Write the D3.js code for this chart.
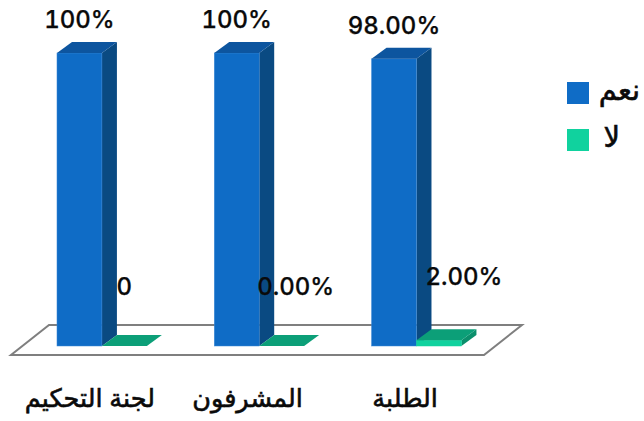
<!DOCTYPE html>
<html>
  <head>
    <meta charset="UTF-8" />
    <title>chart</title>
    <script src="https://cdn.jsdelivr.net/npm/d3@7"></script>
    <style>
      html, body { margin: 0; padding: 0; background: #fff; overflow: hidden; }
      svg { display: block; }
      text {
        font-family: Inter, "DejaVu Sans", sans-serif;
        font-weight: 500;
        font-variant-numeric: tabular-nums;
        fill: #0a0a0a;
        stroke: #0a0a0a;
        stroke-width: 0.25;
      }
      .ar { stroke-width: 0.6; }
    </style>
  </head>
  <body>
    <div class="chart"></div>
    <script>
      // values
      const categories = ["لجنة التحكيم", "المشرفون", "الطلبة"];
      const seriesNames = ["نعم", "لا"];
      const yesValues = [100, 100, 98];
      const noValues = [0, 0, 2];
      const yesLabels = ["100%", "100%", "98.00%"];
      const noLabels = ["0", "0.00%", "2.00%"];

      const width = 644;
      const height = 421;
      const depthX = 15;
      const depthY = -11;
      const floorFront = 355;
      const floorBack = 325;
      const barBase = 346;

      const svg = d3.select(".chart").append("svg")
        .attr("width", width)
        .attr("height", height);

      // front edge of the floor carries the axis, bars stand further back on it
      const xAxisScale = d3.scaleBand().domain(categories).range([11, 484]);
      const x = d3.scaleBand().domain(categories).range([22.7, 495.7])
        .paddingInner(0.4286).paddingOuter(0.218).align(0.5);
      const xInner = d3.scaleBand().domain(seriesNames).range([0, x.bandwidth()]);
      const y = d3.scaleLinear().domain([0, 100]).range([barBase, 53]);

      const colors = {
        "نعم": { front: "#0f6cc6", side: "#0a4a82", top: "#0d559f", edge: "#3f8ad6" },
        "لا": { front: "#10d29e", side: "#0b8f6c", top: "#0c9f78", edge: "#10d29e" }
      };

      // floor
      const floorX = xAxisScale.range();
      const shift = 38;
      svg.append("path")
        .attr("d", d3.line()([
          [floorX[0], floorFront],
          [floorX[1], floorFront],
          [floorX[1] + shift, floorBack],
          [floorX[0] + shift, floorBack]
        ]) + "Z")
        .attr("fill", "#fff")
        .attr("stroke", "#7f7f7f")
        .attr("stroke-width", 2);

      function drawBar(g, x0, w, value, c) {
        const y1 = y(value);
        const line = d3.line();
        if (value > 0) {
          g.append("path")
            .attr("d", line([[x0 + w, y1], [x0 + w + depthX, y1 + depthY], [x0 + w + depthX, barBase + depthY], [x0 + w, barBase]]) + "Z")
            .attr("fill", c.side);
          g.append("rect")
            .attr("x", x0).attr("y", y1)
            .attr("width", w).attr("height", barBase - y1)
            .attr("fill", c.front)
            .attr("stroke", c.edge).attr("stroke-width", 0.5);
        }
        g.append("path")
          .attr("d", line([[x0, y1], [x0 + depthX, y1 + depthY], [x0 + w + depthX, y1 + depthY], [x0 + w, y1]]) + "Z")
          .attr("fill", c.top);
      }

      categories.forEach((cat, i) => {
        const g = svg.append("g");
        drawBar(g, x(cat) + xInner("نعم"), xInner.bandwidth(), yesValues[i], colors["نعم"]);
        drawBar(g, x(cat) + xInner("لا"), xInner.bandwidth(), noValues[i], colors["لا"]);
      });

      // value labels, the green ones were moved by hand in the original
      const noNudge = [0, 14, 25];
      const valueFont = 24;
      categories.forEach((cat, i) => {
        svg.append("text")
          .attr("x", x(cat) + xInner("نعم") + xInner.bandwidth() / 2)
          .attr("y", y(yesValues[i]) - 25)
          .attr("text-anchor", "middle")
          .attr("font-size", valueFont)
          .text(yesLabels[i]);
        svg.append("text")
          .attr("x", x(cat) + xInner("لا") + xInner.bandwidth() / 2 + noNudge[i])
          .attr("y", y(noValues[i]) - 51 - (noValues[i] > 0 ? 4 : 0))
          .attr("text-anchor", "middle")
          .attr("font-size", valueFont)
          .text(noLabels[i]);
      });

      // category axis
      const axis = svg.append("g")
        .attr("transform", `translate(0,${floorFront})`)
        .call(d3.axisBottom(xAxisScale).tickSize(0).tickPadding(34));
      axis.select(".domain").remove();
      axis.selectAll("text")
        .attr("class", "ar")
        .attr("font-size", 25.5)
        .attr("fill", "#0a0a0a");
      axis.attr("font-family", null);

      // legend
      const legendY = d3.scalePoint().domain(seriesNames).range([82, 129]);
      seriesNames.forEach((name, i) => {
        svg.append("rect")
          .attr("x", 567).attr("y", legendY(name))
          .attr("width", 22).attr("height", 22)
          .attr("fill", colors[name].front);
        svg.append("text")
          .attr("class", "ar")
          .attr("x", i === 0 ? 640 : 620)
          .attr("y", legendY(name) + 18)
          .attr("text-anchor", "end")
          .attr("font-size", 29)
          .text(name);
      });
    </script>
  </body>
</html>
